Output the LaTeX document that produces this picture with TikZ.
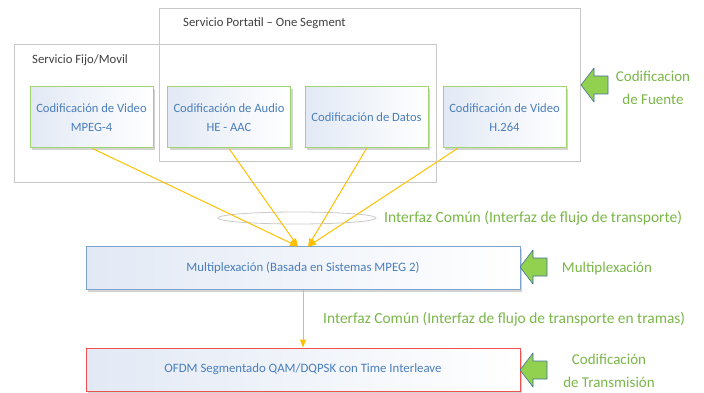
\documentclass[tikz,border=0pt]{standalone}
\usepackage{fontspec}
\setmainfont{Carlito}
\usepackage{tikz}
\usetikzlibrary{arrows.meta,shadows}
\usepackage{xcolor}
\definecolor{txtblue}{RGB}{74,126,187}
\definecolor{lblgreen}{RGB}{122,182,72}
\definecolor{boxgreen}{RGB}{160,212,110}
\definecolor{feedgold}{RGB}{255,192,0}
\definecolor{hintfill}{RGB}{146,208,80}
\definecolor{hintedge}{RGB}{65,113,156}
\definecolor{muxblue}{RGB}{126,163,207}
\definecolor{ofdmred}{RGB}{240,80,80}
\definecolor{framegray}{RGB}{200,200,200}
\definecolor{titlegray}{RGB}{64,64,64}
\definecolor{paleblue}{RGB}{226,233,245}
\tikzstyle{frame} = [draw=framegray, line width=0.9pt, inner sep=0]
\tikzstyle{frametitle} = [text=titlegray, anchor=west, inner sep=0, font=\fontsize{12.7}{14}\selectfont]
\tikzstyle{stage} = [line width=1pt, left color=paleblue, right color=white,
  drop shadow={shadow xshift=2pt, shadow yshift=-2.5pt, opacity=0.35},
  align=center, text=txtblue, inner sep=0]
\tikzstyle{codec} = [stage, draw=boxgreen, minimum width=123pt, minimum height=61pt,
  font=\fontsize{12.6}{19}\selectfont]
\tikzstyle{layer} = [stage, minimum width=434pt, minimum height=43pt,
  font=\fontsize{12.8}{14}\selectfont]
\tikzstyle{note} = [text=lblgreen, align=center, font=\fontsize{15}{23}\selectfont]
\tikzstyle{feed} = [line width=1pt, color=feedgold, -{Triangle[length=8pt,width=6pt]}]
\tikzset{hint/.pic={
  \draw[hintedge, fill=hintfill, line width=0.6pt, line join=round]
    (0,0) -- (13,-17) -- (13,-9) -- (27,-9) -- (27,9) -- (13,9) -- (13,17) -- cycle;
}}

\begin{document}
\begin{tikzpicture}[x=1pt, y=-1pt]
\useasboundingbox (0,0) rectangle (704,393);

% Service groups
\node[frame, minimum width=421pt, minimum height=153pt] (portatil) at (369.5,84.5) {};
\node[frametitle] (portatiltxt) at (183,23) {Servicio Portatil -- One Segment};
\node[frame, minimum width=422pt, minimum height=138pt] (fijo) at (225,113) {};
\node[frametitle] (fijotxt) at (32,60) {Servicio Fijo/Movil};

% Source coders
\node[codec] (mpeg4) at (91.5,117.5) {Codificación de Video\\MPEG-4};
\node[codec] (heaac) at (229,117.5) {Codificación de Audio\\HE - AAC};
\node[codec] (datos) at (366.5,117.5) {Codificación de Datos};
\node[codec] (h264) at (504.5,117.5) {Codificación de Video\\H.264};

% Transport interface ring
\draw[framegray, line width=0.8pt] (297,218) ellipse [x radius=79, y radius=6];

% Multiplexer and modulator
\node[layer, draw=muxblue] (mux) at (303,267.5) {Multiplexación (Basada en Sistemas MPEG 2)};
\node[layer, draw=ofdmred] (ofdm) at (303,369.5) {OFDM Segmentado QAM/DQPSK con Time Interleave};

\coordinate (inL) at ([xshift=-5pt, yshift=-1pt]mux.north);
\coordinate (inR) at ([xshift=5pt, yshift=-1pt]mux.north);

\draw[feed] ([xshift=1pt]mpeg4.south) -- (inL);
\draw[feed] (heaac.south) -- (inL);
\draw[feed] (datos.south) -- (inR);
\draw[feed] ([xshift=15pt]h264.south west) -- (inR);
\draw[feed] (mux.south) -- (ofdm.north);

% Interface labels
\node[note, anchor=west, inner sep=0, font=\fontsize{15.5}{18}\selectfont] (tsif) at (384,218) {Interfaz Común (Interfaz de flujo de transporte)};
\node[note, anchor=west, inner sep=0, font=\fontsize{15.4}{18}\selectfont] (tsframe) at (323,319) {Interfaz Común (Interfaz de flujo de transporte en tramas)};

% Layer hints
\pic at (581,85) {hint};
\pic at (520,267) {hint};
\pic at (520,370) {hint};
\node[note] (fuente) at (653,88) {Codificacion\\de Fuente};
\node[note] (mplx) at (607,268) {Multiplexación};
\node[note] (trans) at (609,370.5) {Codificación\\de Transmisión};
\end{tikzpicture}
\end{document}
